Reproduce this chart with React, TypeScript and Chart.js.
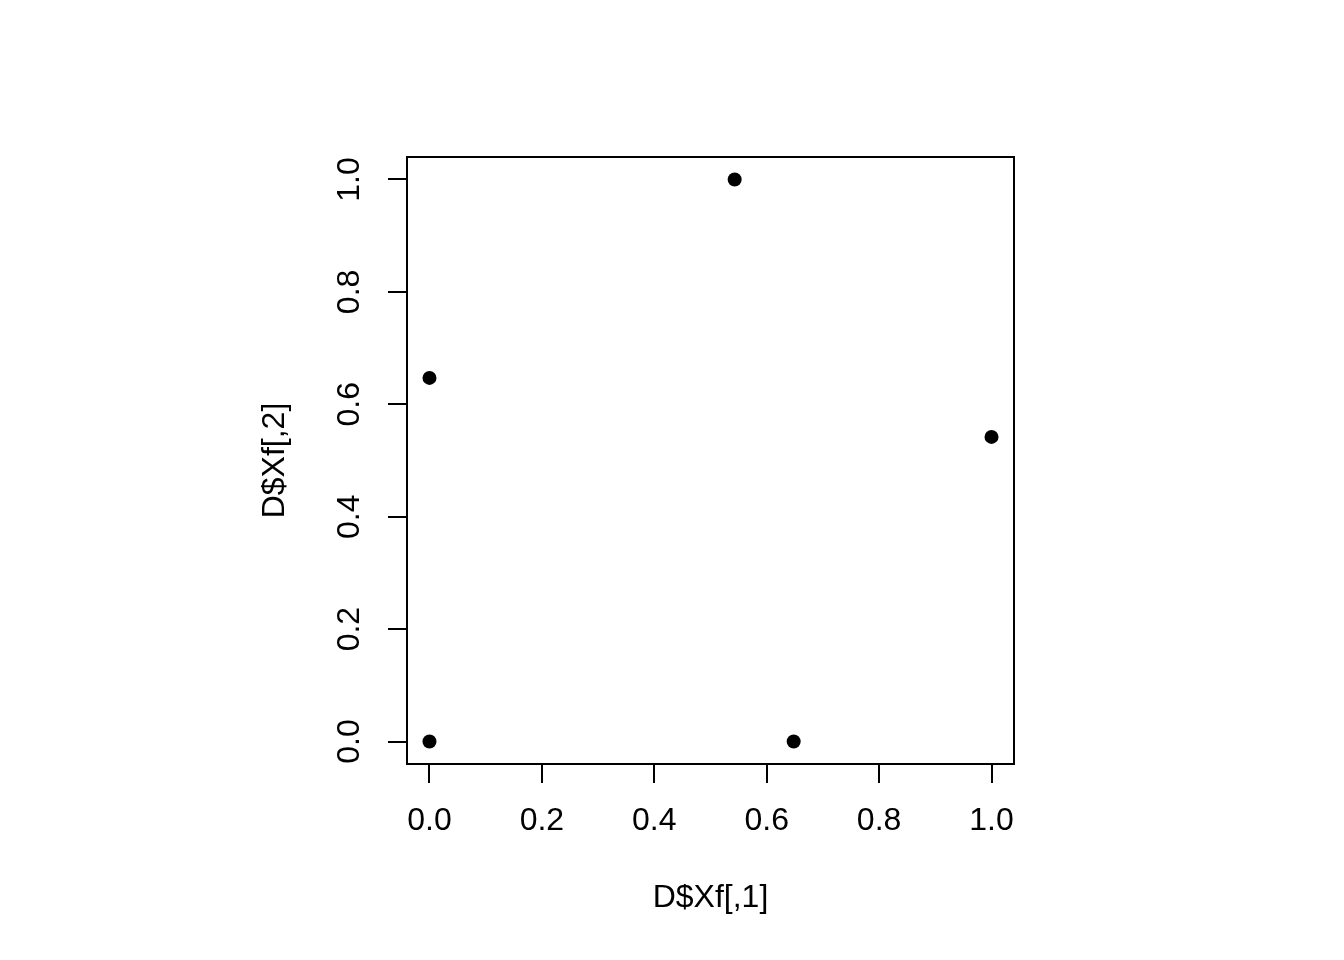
import React, { useEffect, useRef } from "react";
import { Chart, registerables } from "chart.js";

Chart.register(...registerables);

const xValues = [0, 0, 0.543, 0.648, 1.0];
const yValues = [0, 0.647, 1.0, 0, 0.542];
const tickValues = [0, 0.2, 0.4, 0.6, 0.8, 1.0];
const xTitle = "D$Xf[,1]";
const yTitle = "D$Xf[,2]";
const axisMin = -0.04;
const axisMax = 1.04;

const FONT = "'Liberation Sans', Arial, Helvetica, sans-serif";

const boxPlugin = {
  id: "boxPlugin",
  afterDraw(chart: any) {
    const { ctx, chartArea } = chart;
    ctx.save();
    ctx.strokeStyle = "#000";
    ctx.lineWidth = 2;
    ctx.strokeRect(chartArea.left, chartArea.top, chartArea.right - chartArea.left, chartArea.bottom - chartArea.top);
    ctx.restore();
  },
};

export default function App() {
  const ref = useRef<HTMLCanvasElement>(null);
  useEffect(() => {
    const points = xValues.map((x, i) => ({ x, y: yValues[i] }));
    const chart = new Chart(ref.current as HTMLCanvasElement, {
      type: "scatter",
      data: {
        datasets: [
          {
            data: points,
            backgroundColor: "#000",
            borderWidth: 0,
            pointRadius: 7,
            pointHoverRadius: 7,
          },
        ],
      },
      options: {
        animation: false,
        responsive: false,
        devicePixelRatio: 1,
        events: [],
        layout: { padding: { top: 157, right: 330, left: 0, bottom: 0 } },
        plugins: { legend: { display: false }, tooltip: { enabled: false } },
        scales: {
          x: {
            type: "linear",
            min: axisMin,
            max: axisMax,
            afterBuildTicks: (scale: any) => {
              scale.ticks = tickValues.map((v) => ({ value: v }));
            },
            afterFit: (scale: any) => {
              scale.height = 196;
            },
            grid: {
              display: true,
              drawOnChartArea: false,
              drawTicks: true,
              tickLength: 19,
              color: "#000",
              lineWidth: 2,
            },
            border: { display: false },
            ticks: {
              autoSkip: false,
              maxRotation: 0,
              minRotation: 0,
              padding: 19,
              color: "#000",
              font: { family: FONT, size: 32 },
              callback: (v: any) => Number(v).toFixed(1),
            },
            title: {
              display: true,
              text: xTitle,
              color: "#000",
              font: { family: FONT, size: 32 },
              padding: { top: 0, bottom: 43 },
            },
          },
          y: {
            type: "linear",
            min: axisMin,
            max: axisMax,
            afterBuildTicks: (scale: any) => {
              scale.ticks = tickValues.map((v) => ({ value: v }));
            },
            afterFit: (scale: any) => {
              scale.width = 407;
            },
            grid: {
              display: true,
              drawOnChartArea: false,
              drawTicks: true,
              tickLength: 19,
              color: "#000",
              lineWidth: 2,
            },
            border: { display: false },
            ticks: {
              autoSkip: false,
              minRotation: 90,
              maxRotation: 90,
              crossAlign: "center",
              padding: 16,
              color: "#000",
              font: { family: FONT, size: 32 },
              callback: (v: any) => Number(v).toFixed(1),
            },
            title: {
              display: true,
              text: yTitle,
              color: "#000",
              font: { family: FONT, size: 32 },
              padding: { top: 256, bottom: 0 },
            },
          },
        },
      },
      plugins: [boxPlugin],
    });
    return () => chart.destroy();
  }, []);

  return (
    <div style={{ position: "absolute", left: 0, top: 0, width: 1344, height: 960, background: "#fff" }}>
      <canvas ref={ref} width={1344} height={960} style={{ width: 1344, height: 960, display: "block" }} />
    </div>
  );
}
